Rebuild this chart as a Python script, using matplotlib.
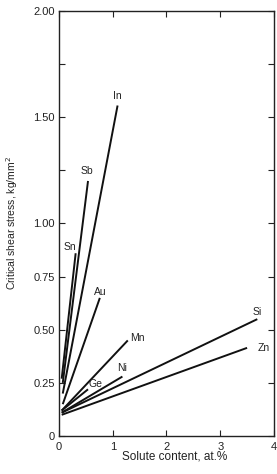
import matplotlib
matplotlib.use("Agg")
import matplotlib.pyplot as plt
from matplotlib.ticker import FixedLocator, FuncFormatter

plt.rcParams['font.family'] = ['Liberation Sans', 'DejaVu Sans']

# solute lines: start and end points (at.%, kg/mm^2)
solutes = ['In', 'Sb', 'Sn', 'Au', 'Mn', 'Ni', 'Ge', 'Si', 'Zn']
x_start = [0.07, 0.07, 0.05, 0.07, 0.05, 0.05, 0.05, 0.05, 0.05]
y_start = [0.20, 0.25, 0.27, 0.15, 0.12, 0.11, 0.12, 0.11, 0.10]
x_end = [1.09, 0.54, 0.31, 0.76, 1.28, 1.18, 0.54, 3.69, 3.50]
y_end = [1.555, 1.20, 0.86, 0.65, 0.45, 0.28, 0.22, 0.55, 0.415]

# where each name is written
label_x = [1.09, 0.52, 0.21, 0.76, 1.45, 1.18, 0.68, 3.69, 3.80]
label_y = [1.60, 1.245, 0.89, 0.68, 0.46, 0.32, 0.245, 0.585, 0.415]

y_ticks = [0, 0.25, 0.5, 0.75, 1.0, 1.25, 1.5, 1.75, 2.0]
y_tick_labels = {0: '0', 0.25: '0.25', 0.5: '0.50', 0.75: '0.75',
                 1.0: '1.00', 1.5: '1.50', 2.0: '2.00'}

fig = plt.figure(figsize=(2.77, 4.74), dpi=100)
ax = fig.add_axes([0.213, 0.080, 0.776, 0.897])

for i, name in enumerate(solutes):
    ax.plot([x_start[i], x_end[i]], [y_start[i], y_end[i]],
            color='#111111', lw=1.4, solid_capstyle='butt')
    ax.text(label_x[i], label_y[i], name, fontsize=7.5, color='#222222',
            ha='center', va='center')

ax.set_xlim(0, 4)
ax.set_ylim(0, 2.0)
ax.xaxis.set_major_locator(FixedLocator([0, 1, 2, 3, 4]))
ax.yaxis.set_major_locator(FixedLocator(y_ticks))
ax.yaxis.set_major_formatter(FuncFormatter(lambda v, p: y_tick_labels.get(round(v, 2), '')))
ax.tick_params(direction='in', length=4, width=0.8, top=True, right=True,
               labelsize=8, colors='#222222')
ax.tick_params(axis='y', pad=3)
ax.tick_params(axis='x', pad=4)

for s in ax.spines.values():
    s.set_linewidth(1.0)
    s.set_color('#222222')

ax.set_xlabel('Solute content, at.%', fontsize=8.5, color='#222222')
ax.set_ylabel('Critical shear stress, kg/mm$^2$', fontsize=7.5, color='#222222')
ax.yaxis.set_label_coords(-0.18, 0.5)
ax.xaxis.set_label_coords(0.54, -0.035)

fig.savefig('out.png', dpi=100)
